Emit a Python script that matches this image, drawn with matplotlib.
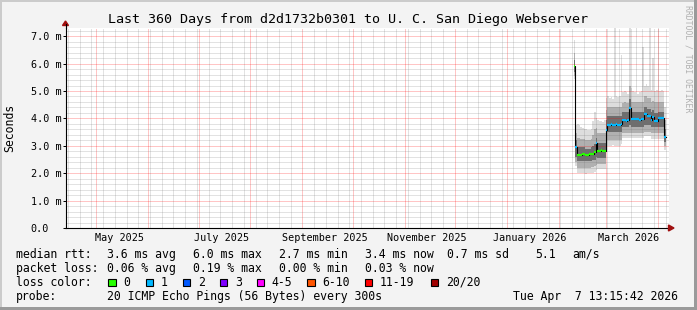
import numpy as np
import matplotlib
matplotlib.use("Agg")
import matplotlib.pyplot as plt
import matplotlib.dates as mdates
from matplotlib.ticker import MultipleLocator, FuncFormatter
from matplotlib.patches import Rectangle, Polygon
from matplotlib.lines import Line2D
import matplotlib.transforms as mtransforms
from datetime import datetime, timedelta

W, H = 697, 310
MONO = 'DejaVu Sans Mono'

t_end = datetime(2026, 4, 7, 13, 15, 42)
t_start = t_end - timedelta(days=360)

# one value per day, starting 2026-02-10 (no data before), milliseconds
first_day = datetime(2026, 2, 10)
median = [5.90, 2.95, 2.68, 2.68, 2.67, 2.69, 2.70, 2.68, 2.67, 2.69,
          2.70, 2.71, 2.76, 3.10, 2.82, 2.82, 2.83, 2.82, 2.82, 3.57,
          3.77, 3.77, 3.78, 3.77, 3.77, 3.78, 3.77, 3.77, 3.78, 3.93,
          3.93, 3.92, 3.93, 4.37, 3.97, 3.97, 3.98, 3.97, 3.97, 3.96,
          3.97, 3.97, 4.15, 4.15, 4.08, 4.08, 3.95, 4.05, 3.90, 3.90,
          4.00, 4.01, 4.00, 4.01, 3.33]
loss = [0, 1, 0, 0, 0, 0, 0, 0, 0, 0,
        0, 0, 0, 1, 0, 0, 0, 0, 0, 1,
        1, 1, 1, 1, 1, 1, 1, 1, 1, 1,
        1, 1, 1, 1, 1, 1, 1, 1, 1, 1,
        1, 1, 1, 1, 1, 1, 1, 1, 1, 1,
        1, 1, 1, 1, 1]
smoke_lo = [5.45, 2.25, 2.02, 2.00, 1.99, 2.00, 2.00, 1.98, 2.00, 2.01,
            2.00, 2.00, 2.05, 2.10, 2.15, 2.15, 2.15, 2.16, 2.15, 2.95,
            3.00, 3.00, 3.00, 3.02, 3.00, 3.00, 2.98, 3.00, 3.05, 3.30,
            3.30, 3.30, 3.30, 3.30, 3.30, 3.30, 3.30, 3.30, 3.30, 3.30,
            3.30, 3.30, 3.35, 3.35, 3.35, 3.35, 3.25, 3.25, 3.25, 3.25,
            3.25, 3.25, 3.25, 3.25, 2.83]
smoke_q10 = [5.55, 2.40, 2.20, 2.20, 2.20, 2.20, 2.20, 2.20, 2.20, 2.20,
             2.22, 2.22, 2.25, 2.30, 2.32, 2.32, 2.32, 2.32, 2.32, 3.10,
             3.20, 3.20, 3.20, 3.20, 3.20, 3.20, 3.20, 3.20, 3.20, 3.45,
             3.45, 3.45, 3.45, 3.45, 3.45, 3.45, 3.45, 3.45, 3.45, 3.45,
             3.45, 3.45, 3.50, 3.50, 3.50, 3.50, 3.45, 3.45, 3.45, 3.45,
             3.45, 3.45, 3.45, 3.45, 3.00]
smoke_q25 = [5.70, 2.60, 2.45, 2.45, 2.45, 2.45, 2.45, 2.45, 2.45, 2.45,
             2.45, 2.50, 2.50, 2.60, 2.57, 2.57, 2.57, 2.57, 2.57, 3.35,
             3.50, 3.50, 3.50, 3.50, 3.50, 3.50, 3.50, 3.50, 3.50, 3.70,
             3.70, 3.70, 3.70, 3.75, 3.70, 3.70, 3.70, 3.70, 3.70, 3.70,
             3.70, 3.70, 3.75, 3.75, 3.75, 3.75, 3.70, 3.70, 3.70, 3.70,
             3.70, 3.70, 3.70, 3.70, 3.15]
smoke_q75 = [6.15, 3.20, 2.95, 2.95, 2.95, 2.95, 2.95, 2.90, 2.90, 2.90,
             2.95, 3.00, 3.05, 3.30, 3.10, 3.10, 3.10, 3.10, 3.10, 3.95,
             4.10, 4.10, 4.10, 4.10, 4.10, 4.10, 4.10, 4.10, 4.10, 4.25,
             4.25, 4.25, 4.25, 4.70, 4.25, 4.25, 4.25, 4.25, 4.25, 4.25,
             4.25, 4.25, 4.40, 4.40, 4.35, 4.35, 4.25, 4.30, 4.20, 4.20,
             4.25, 4.25, 4.25, 4.25, 3.60]
smoke_q90 = [6.40, 3.45, 3.30, 3.30, 3.25, 3.25, 3.25, 3.20, 3.20, 3.20,
             3.25, 3.40, 3.60, 3.65, 3.45, 3.45, 3.45, 3.45, 3.45, 4.30,
             4.40, 4.40, 4.40, 4.40, 4.40, 4.40, 4.40, 4.40, 4.40, 4.55,
             4.60, 4.55, 4.55, 5.20, 4.60, 4.60, 4.60, 4.60, 4.60, 4.60,
             4.60, 4.60, 4.80, 4.80, 4.75, 4.75, 4.60, 4.65, 4.60, 4.60,
             4.60, 4.60, 4.60, 4.60, 3.95]
smoke_hi = [6.85, 3.75, 3.78, 3.75, 3.70, 3.66, 3.62, 3.60, 3.58, 3.57,
            3.60, 3.90, 4.22, 4.00, 3.95, 3.90, 3.92, 3.88, 3.95, 4.75,
            4.80, 4.75, 4.78, 4.72, 7.30, 4.80, 4.78, 4.82, 6.30, 4.95,
            5.00, 4.95, 4.90, 7.30, 5.10, 5.00, 4.95, 7.30, 4.90, 4.95,
            5.00, 6.60, 5.20, 5.25, 5.20, 7.30, 5.05, 6.20, 5.00, 5.05,
            7.30, 5.00, 5.05, 5.00, 4.40]

loss_names = ['0', '1', '2', '3', '4-5', '6-10', '11-19', '20/20']
loss_upper = [0, 1, 2, 3, 5, 10, 19, 20]
loss_colors = ['#26ff00', '#00b8ff', '#0059ff', '#7e00ff', '#ff00ff',
               '#ff5500', '#ff0000', '#a10000']

label_months = ['2025-05-01', '2025-07-01', '2025-09-01',
                '2025-11-01', '2026-01-01', '2026-03-01']

title = 'Last 360 Days from d2d1732b0301 to U. C. San Diego Webserver'
rtt_stats = ['3.6 ms avg', '6.0 ms max', '2.7 ms min', '3.4 ms now',
             '0.7 ms sd', '5.1', 'am/s']
loss_stats = ['0.06 % avg', '0.19 % max', '0.00 % min', '0.03 % now']
probe_text = '20 ICMP Echo Pings (56 Bytes) every 300s'
stamp = 'Tue Apr  7 13:15:42 2026'


def fx(x):
    return x / W


def fy(y):
    return 1 - y / H


fig = plt.figure(figsize=(W / 100, H / 100), dpi=100)
fig.patch.set_facecolor('#f3f3f3')

# 3d-ish border like rrdtool
for (x, y, w, h, c) in [(0, 0, W, 2, '#cbcbcb'), (0, 0, 2, H, '#cbcbcb'),
                        (0, H - 3, W, 3, '#9a9a9a'), (W - 3, 0, 3, H, '#9a9a9a')]:
    fig.patches.append(Rectangle((fx(x), fy(y + h)), w / W, h / H,
                                 transform=fig.transFigure, color=c, lw=0, zorder=0))

ax_l, ax_r, ax_t, ax_b = 65.5, 668.5, 28, 228
ax = fig.add_axes([fx(ax_l), fy(ax_b), (ax_r - ax_l) / W, (ax_b - ax_t) / H])
ax.set_facecolor('white')
ax.set_xlim(mdates.date2num(t_start), mdates.date2num(t_end))
ax.set_ylim(0, 7.3)

x0 = mdates.date2num(first_day)
edges = x0 + np.arange(len(median) + 1)


def ext(a):
    return np.append(a, a[-1])


bands = [(smoke_lo, smoke_q10, '#dddddd'), (smoke_q90, smoke_hi, '#dddddd'),
         (smoke_q10, smoke_q25, '#b0b0b0'), (smoke_q75, smoke_q90, '#b0b0b0'),
         (smoke_q25, smoke_q75, '#6e6e6e')]
for lo, hi, c in bands:
    ax.fill_between(edges, ext(lo), ext(hi), step='post', color=c, lw=0, zorder=1)

ax.step(edges, ext(median), where='post', color='black', lw=0.8, zorder=3)
seg_colors = []
for l in loss:
    i = next(k for k, u in enumerate(loss_upper) if l <= u)
    seg_colors.append(loss_colors[i])
ax.hlines(median, edges[:-1], edges[1:], colors=seg_colors, lw=1.6, zorder=4)

# dotted grid on top of the smoke, like rrdtool
ax.xaxis.set_major_locator(mdates.MonthLocator())
ax.xaxis.set_minor_locator(mdates.WeekdayLocator(byweekday=mdates.MO))
ax.yaxis.set_major_locator(MultipleLocator(1.0))
ax.yaxis.set_minor_locator(MultipleLocator(0.2))
ax.set_axisbelow(False)
ax.grid(which='minor', color='#707070', alpha=0.4, lw=0.72, ls=(0, (1, 1)))
ax.grid(which='major', color='#ff0000', alpha=0.45, lw=0.72, ls=(0, (1, 1)))

ax.yaxis.set_major_formatter(FuncFormatter(lambda v, p: '0.0' if v == 0 else f'{v:.1f} m'))
ax.tick_params(axis='y', which='major', direction='out', length=2, width=0.72,
               pad=23, labelsize=7.3)
for t in ax.get_yticklabels():
    t.set_horizontalalignment('left')
    t.set_fontfamily(MONO)
ax.tick_params(axis='x', which='major', length=0, labelbottom=False)
ax.tick_params(which='minor', length=0)

for s in ['top', 'right']:
    ax.spines[s].set_visible(False)
for s in ['left', 'bottom']:
    ax.spines[s].set_linewidth(0.8)
    ax.spines[s].set_zorder(5)

trans = mtransforms.blended_transform_factory(ax.transData, ax.transAxes)
for m in label_months:
    d = datetime.strptime(m, '%Y-%m-%d')
    ax.text(mdates.date2num(d) + 13.5, -0.05, d.strftime('%B %Y'), transform=trans,
            ha='center', va='center', fontsize=7.3, family=MONO)

# axis extensions and arrows
fig.lines.append(Line2D([fx(ax_l), fx(ax_l)], [fy(ax_t), fy(24)], color='black', lw=0.8,
                        transform=fig.transFigure))
fig.lines.append(Line2D([fx(ax_r), fx(669)], [fy(ax_b), fy(ax_b)], color='black', lw=0.8,
                        transform=fig.transFigure))
fig.patches.append(Polygon([(fx(62.5), fy(25.5)), (fx(68.5), fy(25.5)), (fx(65.5), fy(21))],
                           closed=True, color='#a01010', transform=fig.transFigure))
fig.patches.append(Polygon([(fx(668.5), fy(225)), (fx(668.5), fy(231)), (fx(674), fy(228))],
                           closed=True, color='#a01010', transform=fig.transFigure))

# texts
fig.text(0.5, fy(19), title, ha='center', va='center', fontsize=9.6, family=MONO)
fig.text(fx(10), fy(127.5), 'Seconds', rotation=90, ha='center', va='center',
         fontsize=8.3, family=MONO)
fig.text(fx(688), fy(59), 'RRDTOOL / TOBI OETIKER', rotation=270, ha='center',
         va='center', fontsize=5.9, family=MONO, color='#b0b0b0')

rows_y = [254.3, 268.3, 282.3, 296.3]
row_names = ['median rtt:', 'packet loss:', 'loss color:', 'probe:']
for y, s in zip(rows_y, row_names):
    fig.text(fx(16), fy(y), s, ha='left', va='center', fontsize=8.3, family=MONO)

rtt_x = [107.3, 193.3, 279.3, 365, 446.7, 535, 572.7]
for x, s in zip(rtt_x, rtt_stats):
    fig.text(fx(x), fy(rows_y[0]), s, ha='left', va='center', fontsize=8.3, family=MONO)
for x, s in zip(rtt_x, loss_stats):
    fig.text(fx(x), fy(rows_y[1]), s, ha='left', va='center', fontsize=8.3, family=MONO)

box_x = [108.3, 145.7, 182.7, 220, 256.7, 307.3, 365, 431]
for x, name, c in zip(box_x, loss_names, loss_colors):
    fig.patches.append(Rectangle((fx(x), fy(rows_y[2] + 3.7)), 7.4 / W, 7.4 / H,
                                 transform=fig.transFigure, facecolor=c,
                                 edgecolor='black', lw=0.8))
    fig.text(fx(x + 15), fy(rows_y[2]), name, ha='left', va='center', fontsize=8.3, family=MONO)

fig.text(fx(107.3), fy(rows_y[3]), probe_text, ha='left', va='center', fontsize=8.3, family=MONO)
fig.text(fx(513.3), fy(rows_y[3]), stamp, ha='left', va='center', fontsize=8.3, family=MONO)

fig.savefig('out.png', dpi=100, facecolor=fig.get_facecolor())
